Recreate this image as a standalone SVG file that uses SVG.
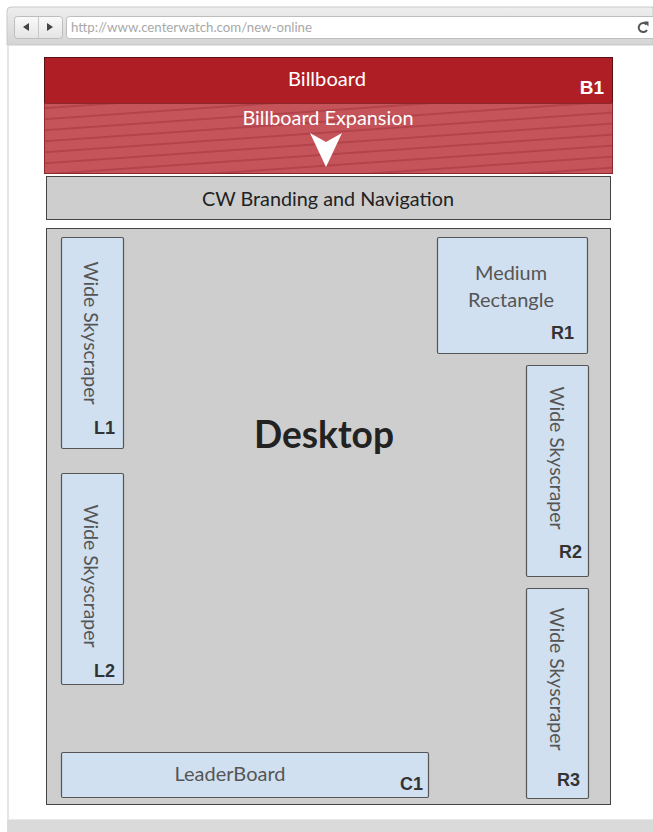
<svg xmlns="http://www.w3.org/2000/svg" width="653" height="832" viewBox="0 0 653 832">
<defs>
<linearGradient id="chrome" x1="0" y1="0" x2="0" y2="1">
<stop offset="0" stop-color="#eeeeee"/>
<stop offset="1" stop-color="#d4d4d4"/>
</linearGradient>
<linearGradient id="btn" x1="0" y1="0" x2="0" y2="1">
<stop offset="0" stop-color="#fafafa"/>
<stop offset="1" stop-color="#e4e4e4"/>
</linearGradient>
<pattern id="stripes" patternUnits="userSpaceOnUse" width="40" height="11" patternTransform="rotate(-4)">
<rect width="40" height="11" fill="#c5545a"/>
<rect y="0" width="40" height="2" fill="#b3434a"/>
</pattern>
</defs>
<style>
.box{fill:#d0e0f0;stroke:#555;stroke-width:1.2}
.lbl{font-family:"Liberation Sans",Arial,sans-serif;font-weight:bold;font-size:18px;fill:#333}
.t{font-family:Lato,"Open Sans",sans-serif;font-size:19px;fill:#555}
.w{fill:#fff}
</style>
<rect width="653" height="832" fill="#fff"/>
<!-- browser chrome -->
<g id="browser">
<path d="M7,45 V11 Q7,7 11,7 H653 V45 Z" fill="url(#chrome)" stroke="#c8c8c8"/>
<line x1="8" y1="45" x2="8" y2="819" stroke="#dcdcdc" stroke-width="1.5"/>
<rect x="7" y="819" width="646" height="13" fill="#dadada"/>
<line x1="7" y1="819.5" x2="653" y2="819.5" stroke="#e8e8e8"/>
<rect x="14.5" y="16.5" width="48" height="22" rx="3" fill="url(#btn)" stroke="#bdbdbd"/>
<line x1="38.5" y1="17" x2="38.5" y2="38" stroke="#c8c8c8"/>
<path d="M23,27 L29,23 L29,31 Z" fill="#444"/>
<path d="M53,27 L47,23 L47,31 Z" fill="#444"/>
<rect x="66.5" y="16.5" width="600" height="22" rx="3" fill="#fff" stroke="#bdbdbd"/>
<text x="71" y="31.5" font-family="Lato,'Open Sans',sans-serif" font-size="12.5" fill="#a8a8a8" textLength="241" lengthAdjust="spacingAndGlyphs">http://www.centerwatch.com/new-online</text>
<path d="M646.5,24.5 A4.5,4.5 0 1 0 647,30" fill="none" stroke="#555" stroke-width="2"/>
<path d="M643.5,21.5 L648.5,21.5 L648.5,26.5 Z" fill="#555"/>
</g>
<!-- Billboard -->
<g id="billboard">
<rect x="44.5" y="57.5" width="568" height="46" fill="#b01e25" stroke="#5a1014"/>
<text class="w" x="327" y="86" text-anchor="middle" font-family="Lato,'Open Sans',sans-serif" font-size="20" textLength="78" lengthAdjust="spacingAndGlyphs">Billboard</text>
<text class="w" x="604" y="94" text-anchor="end" font-family="'Liberation Sans',Arial,sans-serif" font-weight="bold" font-size="19">B1</text>
</g>
<g id="expansion">
<rect x="44.5" y="103.5" width="568" height="70" fill="url(#stripes)" stroke="#8a2a2f"/>
<text class="w" x="328" y="125" text-anchor="middle" font-family="Lato,'Open Sans',sans-serif" font-size="19" textLength="171" lengthAdjust="spacingAndGlyphs">Billboard Expansion</text>
<path d="M310,133 L326,142 L342,133 L326,167 Z" fill="#fff"/>
</g>
<g id="branding">
<rect x="46.5" y="176.5" width="564" height="43" fill="#cecece" stroke="#444"/>
<text x="328" y="206" text-anchor="middle" font-family="Lato,'Open Sans',sans-serif" font-size="19" fill="#222" textLength="252" lengthAdjust="spacingAndGlyphs">CW Branding and Navigation</text>
</g>
<g id="desktop">
<rect x="46.5" y="228.5" width="564" height="576" fill="#cecece" stroke="#444"/>
<text x="324" y="448" text-anchor="middle" font-family="Lato,'Open Sans',sans-serif" font-weight="bold" font-size="38" fill="#222" textLength="140" lengthAdjust="spacingAndGlyphs">Desktop</text>
</g>
<g id="L1">
<rect class="box" x="61.5" y="237.5" width="62" height="211" rx="1.5"/>
<text class="t" transform="translate(84,333) rotate(90)" text-anchor="middle" textLength="143" lengthAdjust="spacingAndGlyphs">Wide Skyscraper</text>
<text class="lbl" x="115" y="434" text-anchor="end">L1</text>
</g>
<g id="L2">
<rect class="box" x="61.5" y="473.5" width="62" height="211" rx="1.5"/>
<text class="t" transform="translate(84,576) rotate(90)" text-anchor="middle" textLength="143" lengthAdjust="spacingAndGlyphs">Wide Skyscraper</text>
<text class="lbl" x="115" y="677" text-anchor="end">L2</text>
</g>
<g id="R1">
<rect class="box" x="437.5" y="237.5" width="150" height="116" rx="1.5"/>
<text class="t" x="511" y="280" text-anchor="middle" textLength="72" lengthAdjust="spacingAndGlyphs">Medium</text>
<text class="t" x="511" y="307" text-anchor="middle" textLength="86" lengthAdjust="spacingAndGlyphs">Rectangle</text>
<text class="lbl" x="574" y="339" text-anchor="end">R1</text>
</g>
<g id="R2">
<rect class="box" x="526.5" y="365.5" width="62" height="211" rx="1.5"/>
<text class="t" transform="translate(550,458) rotate(90)" text-anchor="middle" textLength="143" lengthAdjust="spacingAndGlyphs">Wide Skyscraper</text>
<text class="lbl" x="582" y="558" text-anchor="end">R2</text>
</g>
<g id="R3">
<rect class="box" x="526.5" y="588.5" width="62" height="210" rx="1.5"/>
<text class="t" transform="translate(550,679) rotate(90)" text-anchor="middle" textLength="143" lengthAdjust="spacingAndGlyphs">Wide Skyscraper</text>
<text class="lbl" x="580" y="786" text-anchor="end">R3</text>
</g>
<g id="C1">
<rect class="box" x="61.5" y="752.5" width="367" height="45" rx="1.5"/>
<text class="t" x="230" y="781" text-anchor="middle" textLength="111" lengthAdjust="spacingAndGlyphs">LeaderBoard</text>
<text class="lbl" x="423" y="790" text-anchor="end">C1</text>
</g>
<g id="connectors"/>
</svg>
